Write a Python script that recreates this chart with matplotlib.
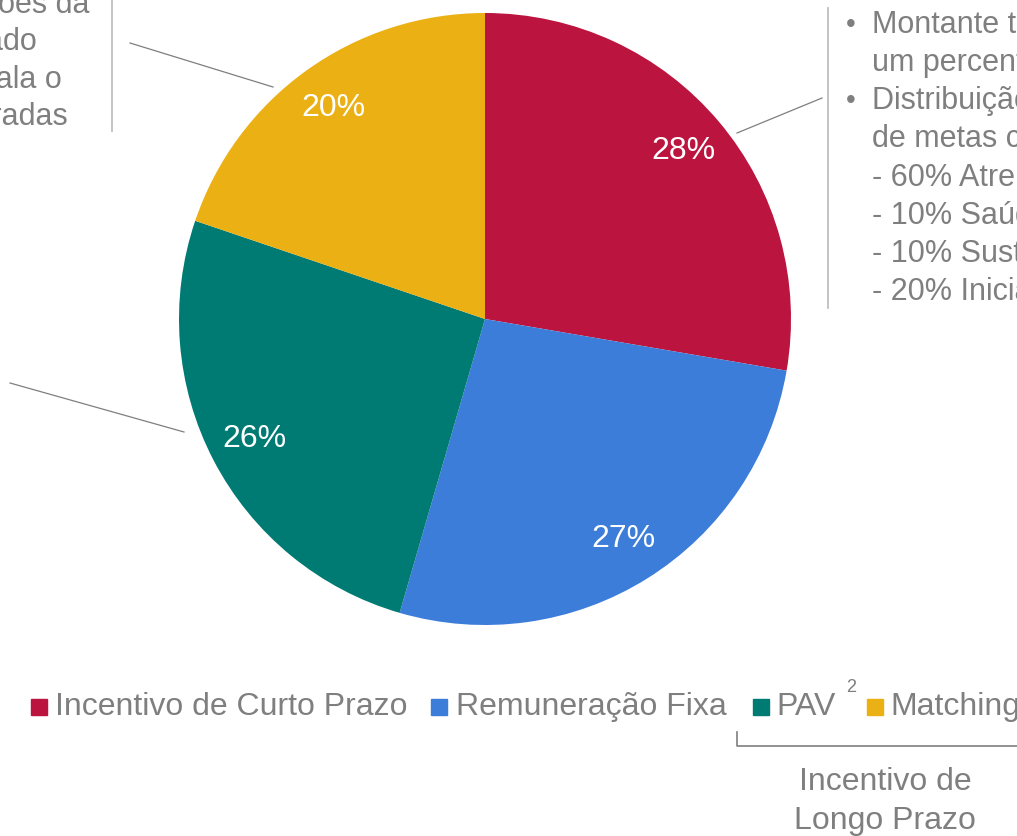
import matplotlib.pyplot as plt

plt.rcParams['font.family'] = ['Liberation Sans', 'DejaVu Sans']

categories = ['Incentivo de Curto Prazo', 'Remuneração Fixa', 'PAV', 'Matching']
shares = [27.7, 26.8, 25.7, 19.8]
colors = ['#BB143F', '#3C7DD9', '#007B73', '#EBB013']

notes_right = ['Montante total definido como', 'um percentual do salário',
               'Distribuição conforme o atingimento', 'de metas corporativas:',
               '- 60% Atrelado ao resultado', '- 10% Saúde e segurança',
               '- 10% Sustentabilidade', '- 20% Iniciativas estratégicas']
notes_left = ['conforme as condições da', 'de mercado', 'e escala o', 'metas esperadas']

gray = '#7F7F7F'

fig = plt.figure(figsize=(10.17, 8.36), dpi=100)

# background layer in pixel coordinates
bg = fig.add_axes([0, 0, 1, 1])
bg.set_xlim(0, 1017)
bg.set_ylim(836, 0)
bg.axis('off')

# pie
ax = fig.add_axes([179/1017, 211/836, 612/1017, 612/836])
wedges, texts, pcts = ax.pie(shares, colors=colors, startangle=90, counterclock=False,
                             autopct=lambda p: f'{p:.0f}%', pctdistance=0.85,
                             textprops=dict(color='white', fontsize=23))
ax.set_xlim(-1, 1)
ax.set_ylim(-1, 1)

# separators and leader lines
bg.plot([112, 112], [0, 131], color='#BFBFBF', lw=1.3)
bg.plot([828, 828], [8, 308], color='#BFBFBF', lw=1.3)
bg.plot([130, 273], [43, 87], color=gray, lw=0.9)
bg.plot([737, 822], [133, 98], color=gray, lw=0.9)
bg.plot([10, 184], [383, 432], color=gray, lw=0.9)

# right side notes
ys = [25, 63, 101, 139, 178, 216, 254, 292]
for i, (t, y) in enumerate(zip(notes_right, ys)):
    if i in (0, 2):
        bg.text(846, y, '•', color=gray, fontsize=20, va='center', ha='left')
    bg.text(872, y, t, color=gray, fontsize=22, va='center', ha='left')

# left side notes (cut by the edge)
for t, x, y in zip(notes_left, [89, 37, 62, 68], [5, 42, 80, 117]):
    bg.text(x, y, t, color=gray, fontsize=22, va='center', ha='right')

# legend
sq_x = [31, 431, 753, 867]
tx_x = [55, 456, 776, 890]
for c, lab, sx, tx in zip(colors, categories, sq_x, tx_x):
    bg.add_patch(plt.Rectangle((sx, 699), 16, 16, color=c))
    bg.text(tx, 707, lab, color=gray, fontsize=23, va='center', ha='left')
bg.text(846, 688, '2', color=gray, fontsize=13, va='center', ha='left')

# bracket for long term incentive
bg.plot([737, 737, 1017], [732, 746, 746], color=gray, lw=1.2)
bg.text(885, 782, 'Incentivo de', color=gray, fontsize=23, va='center', ha='center')
bg.text(885, 821, 'Longo Prazo', color=gray, fontsize=23, va='center', ha='center')

fig.savefig('out.png', dpi=100)
